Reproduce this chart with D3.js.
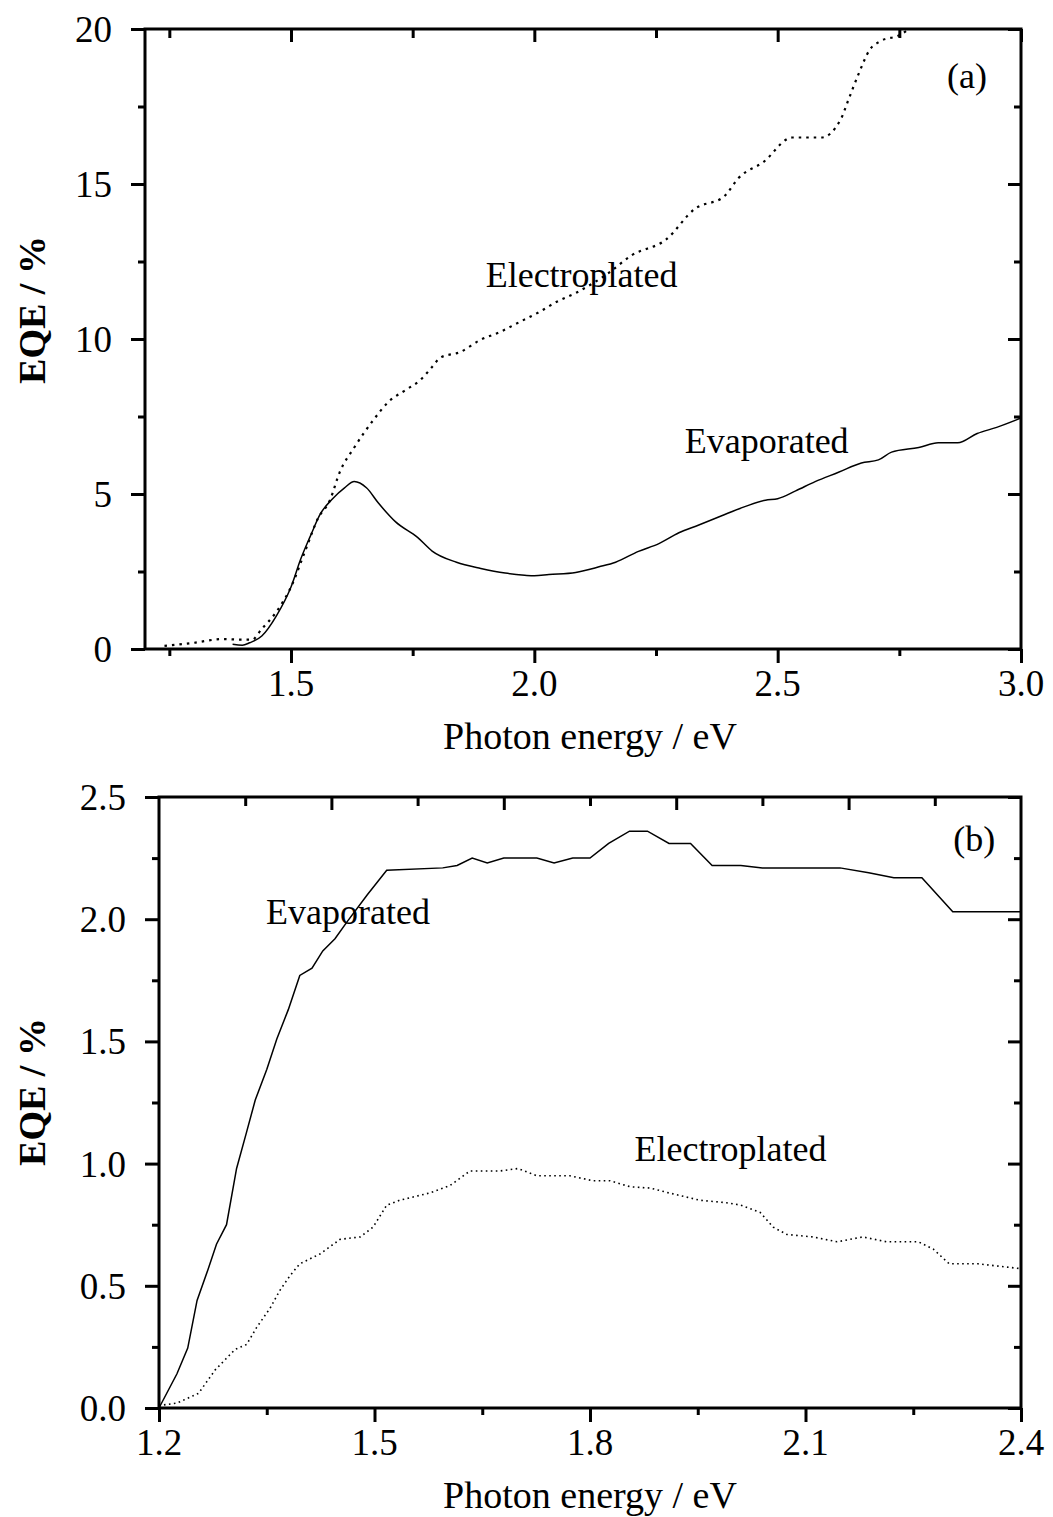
<!DOCTYPE html>
<html lang="en">
<head>
<meta charset="UTF-8">
<title>EQE vs photon energy</title>
<script src="https://d3js.org/d3.v7.min.js"></script>
<style>
  body { margin: 0; background: #fff; }
  svg { display: block; background: #fff; }
  text { font-family: "Liberation Serif", "Times New Roman", serif; fill: #000; }
  .frame { fill: none; stroke: #000; stroke-width: 3; }
  .tick line { stroke: #000; stroke-width: 3; }
  .domain { display: none; }
</style>
</head>
<body>
<svg width="1053" height="1517"></svg>
<script>
// panel (a) data: photon energy (eV) vs EQE (%)
const aElectroE = [1.24, 1.30, 1.36, 1.40, 1.42, 1.44, 1.47, 1.50, 1.53, 1.555, 1.58, 1.60, 1.63, 1.67, 1.70, 1.735, 1.766, 1.79, 1.807, 1.848, 1.889, 1.93, 1.97, 2.01, 2.046, 2.087, 2.15, 2.20, 2.27, 2.33, 2.39, 2.42, 2.47, 2.53, 2.59, 2.63, 2.645, 2.665, 2.69, 2.71, 2.75, 2.77];
const aElectroV = [0.1, 0.2, 0.32, 0.3, 0.3, 0.65, 1.2, 2.0, 3.2, 4.2, 4.8, 5.7, 6.5, 7.4, 7.97, 8.35, 8.68, 9.1, 9.4, 9.58, 9.97, 10.23, 10.55, 10.87, 11.2, 11.5, 12.1, 12.7, 13.2, 14.2, 14.6, 15.2, 15.7, 16.5, 16.5, 17.1, 17.7, 18.5, 19.35, 19.6, 19.8, 20.0];

const aEvapE = [1.38, 1.40, 1.415, 1.44, 1.47, 1.50, 1.52, 1.54, 1.56, 1.585, 1.61, 1.63, 1.655, 1.68, 1.715, 1.76, 1.79, 1.84, 1.89, 1.94, 1.98, 2.00, 2.03, 2.085, 2.133, 2.167, 2.214, 2.256, 2.297, 2.338, 2.385, 2.434, 2.475, 2.50, 2.537, 2.577, 2.625, 2.672, 2.707, 2.734, 2.79, 2.83, 2.87, 2.91, 2.95, 3.0];
const aEvapV = [0.15, 0.12, 0.2, 0.42, 1.07, 2.0, 2.9, 3.65, 4.35, 4.84, 5.2, 5.4, 5.2, 4.7, 4.1, 3.6, 3.16, 2.8, 2.6, 2.45, 2.38, 2.36, 2.4, 2.47, 2.65, 2.8, 3.15, 3.4, 3.75, 4.0, 4.3, 4.6, 4.8, 4.85, 5.1, 5.4, 5.7, 6.0, 6.1, 6.35, 6.5, 6.65, 6.65, 6.95, 7.15, 7.45];

// panel (b) data
const bEvapE = [1.2, 1.225, 1.24, 1.253, 1.268, 1.28, 1.294, 1.308, 1.322, 1.334, 1.35, 1.364, 1.38, 1.396, 1.413, 1.428, 1.445, 1.462, 1.49, 1.517, 1.595, 1.615, 1.636, 1.657, 1.68, 1.726, 1.75, 1.776, 1.80, 1.826, 1.855, 1.88, 1.91, 1.94, 1.97, 2.01, 2.04, 2.094, 2.148, 2.188, 2.223, 2.262, 2.305, 2.355, 2.40];
const bEvapV = [0.0, 0.14, 0.245, 0.44, 0.565, 0.67, 0.75, 0.98, 1.13, 1.26, 1.385, 1.51, 1.63, 1.77, 1.80, 1.87, 1.92, 1.99, 2.10, 2.20, 2.21, 2.22, 2.25, 2.23, 2.25, 2.25, 2.23, 2.25, 2.25, 2.31, 2.36, 2.36, 2.31, 2.31, 2.22, 2.22, 2.21, 2.21, 2.21, 2.19, 2.17, 2.17, 2.03, 2.03, 2.03];

const bElectroE = [1.2, 1.225, 1.255, 1.278, 1.306, 1.322, 1.336, 1.355, 1.368, 1.382, 1.396, 1.424, 1.452, 1.48, 1.498, 1.517, 1.535, 1.577, 1.605, 1.633, 1.675, 1.70, 1.726, 1.772, 1.804, 1.828, 1.856, 1.884, 1.91, 1.953, 1.99, 2.01, 2.037, 2.055, 2.074, 2.11, 2.144, 2.18, 2.213, 2.257, 2.278, 2.30, 2.34, 2.40];
const bElectroV = [0.01, 0.02, 0.06, 0.155, 0.24, 0.26, 0.33, 0.41, 0.48, 0.54, 0.59, 0.63, 0.69, 0.70, 0.74, 0.83, 0.85, 0.88, 0.91, 0.97, 0.97, 0.98, 0.95, 0.95, 0.93, 0.93, 0.905, 0.90, 0.88, 0.85, 0.84, 0.83, 0.80, 0.74, 0.71, 0.70, 0.68, 0.70, 0.68, 0.68, 0.65, 0.59, 0.59, 0.57];

// ticks
const aXMajor = [1.5, 2.0, 2.5, 3.0];
const aXMinor = [1.25, 1.75, 2.25, 2.75];
const aYMajor = [0, 5, 10, 15, 20];
const aYMinor = [2.5, 7.5, 12.5, 17.5];
const bXMajor = [1.2, 1.5, 1.8, 2.1, 2.4];
const bXMinor = [1.35, 1.65, 1.95, 2.25];
const bYMajor = [0, 0.5, 1.0, 1.5, 2.0, 2.5];
const bYMinor = [0.25, 0.75, 1.25, 1.75, 2.25];

const svg = d3.select("svg");
const zip = (xs, ys) => xs.map((x, i) => [x, ys[i]]);

function panel(cfg) {
  const x = d3.scaleLinear().domain(cfg.xDomain).range([cfg.left, cfg.right]);
  const y = d3.scaleLinear().domain(cfg.yDomain).range([cfg.bottom, cfg.top]);
  const g = svg.append("g");
  const MAJ = 14, MIN = 7;

  // tick marks (bottom/left outward, top/right inward)
  const addAxis = (axis, tx, ty) => g.append("g").attr("transform", `translate(${tx},${ty})`).call(axis);
  addAxis(d3.axisBottom(x).tickValues(cfg.xMajor).tickSize(MAJ).tickFormat(""), 0, cfg.bottom);
  addAxis(d3.axisBottom(x).tickValues(cfg.xMinor).tickSize(MIN).tickFormat(""), 0, cfg.bottom);
  addAxis(d3.axisLeft(y).tickValues(cfg.yMajor).tickSize(MAJ).tickFormat(""), cfg.left, 0);
  addAxis(d3.axisLeft(y).tickValues(cfg.yMinor).tickSize(MIN).tickFormat(""), cfg.left, 0);
  addAxis(d3.axisLeft(y).tickValues(cfg.yMajor).tickSize(MAJ - 1).tickFormat(""), cfg.right, 0);
  addAxis(d3.axisLeft(y).tickValues(cfg.yMinor).tickSize(MIN).tickFormat(""), cfg.right, 0);
  if (cfg.topScale) {
    const t = d3.scaleLinear().domain([0, 10]).range([cfg.left, cfg.right]);
    addAxis(d3.axisBottom(t).tickValues([2, 4, 6, 8]).tickSize(MAJ - 1).tickFormat(""), 0, cfg.top);
    addAxis(d3.axisBottom(t).tickValues([1, 3, 5, 7, 9]).tickSize(MIN + 2).tickFormat(""), 0, cfg.top);
  } else {
    addAxis(d3.axisBottom(x).tickValues(cfg.xMajor).tickSize(MAJ - 1).tickFormat(""), 0, cfg.top);
    addAxis(d3.axisBottom(x).tickValues(cfg.xMinor).tickSize(MIN + 2).tickFormat(""), 0, cfg.top);
  }

  g.append("rect").attr("class", "frame")
    .attr("x", cfg.left).attr("y", cfg.top)
    .attr("width", cfg.right - cfg.left).attr("height", cfg.bottom - cfg.top);

  // tick labels
  g.selectAll(".xl").data(cfg.xMajor).join("text")
    .attr("x", d => x(d)).attr("y", cfg.bottom + 47)
    .attr("text-anchor", "middle").attr("font-size", 37)
    .text(d => d3.format(".1f")(d));
  g.selectAll(".yl").data(cfg.yMajor).join("text")
    .attr("x", cfg.left - 33).attr("y", d => y(d)).attr("dy", "0.35em")
    .attr("text-anchor", "end").attr("font-size", 37)
    .text(cfg.yFormat);

  // axis titles
  g.append("text").attr("x", 590).attr("y", cfg.bottom + 100)
    .attr("text-anchor", "middle").attr("font-size", 38)
    .text("Photon energy / eV");
  g.append("text")
    .attr("transform", `translate(45,${cfg.yTitle}) rotate(-90)`)
    .attr("text-anchor", "middle").attr("font-size", 38).attr("font-weight", "bold")
    .text("EQE / %");

  // curves
  const line = d3.line().x(d => x(d[0])).y(d => y(d[1])).curve(cfg.curve);
  g.append("path").datum(cfg.evap).attr("d", line)
    .attr("fill", "none").attr("stroke", "#000").attr("stroke-width", 1.5);
  g.append("path").datum(cfg.electro).attr("d", line)
    .attr("fill", "none").attr("stroke", "#000")
    .attr("stroke-width", cfg.dotW).attr("stroke-dasharray", cfg.dash);

  // labels
  cfg.labels.forEach(l => {
    g.append("text").attr("x", x(l.x)).attr("y", y(l.y))
      .attr("font-size", 36).attr("text-anchor", l.anchor || "start").text(l.text);
  });
  return g;
}

panel({
  left: 145, right: 1021, top: 29, bottom: 649,
  xDomain: [1.2, 3.0], yDomain: [0, 20],
  xMajor: aXMajor, xMinor: aXMinor, yMajor: aYMajor, yMinor: aYMinor,
  yFormat: d => d3.format("d")(d), yTitle: 310,
  curve: d3.curveMonotoneX,
  evap: zip(aEvapE, aEvapV), electro: zip(aElectroE, aElectroV),
  dotW: 2.2, dash: "2.5,5",
  labels: [
    { text: "Electroplated", x: 1.9, y: 11.68 },
    { text: "Evaporated", x: 2.309, y: 6.32 },
    { text: "(a)", x: 2.93, y: 18.1, anchor: "end" }
  ]
});

panel({
  left: 159, right: 1021, top: 797, bottom: 1408,
  xDomain: [1.2, 2.4], yDomain: [0, 2.5],
  xMajor: bXMajor, xMinor: bXMinor, yMajor: bYMajor, yMinor: bYMinor,
  yFormat: d => d3.format(".1f")(d), yTitle: 1092, topScale: true,
  curve: d3.curveLinear,
  evap: zip(bEvapE, bEvapV), electro: zip(bElectroE, bElectroV),
  dotW: 1.6, dash: "1.6,3.4",
  labels: [
    { text: "Evaporated", x: 1.349, y: 1.98 },
    { text: "Electroplated", x: 1.862, y: 1.01 },
    { text: "(b)", x: 2.364, y: 2.28, anchor: "end" }
  ]
});
</script>
</body>
</html>
